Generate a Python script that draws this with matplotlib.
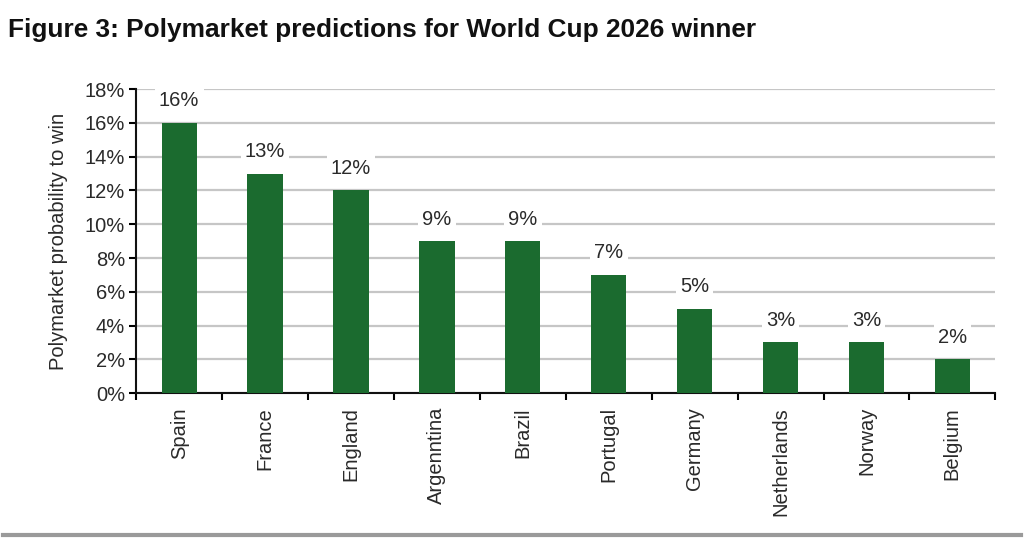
import numpy as np
import matplotlib.pyplot as plt
from matplotlib.lines import Line2D

# Polymarket odds for World Cup 2026 winner
countries = ['Spain', 'France', 'England', 'Argenntina', 'Brazil',
             'Portugal', 'Germany', 'Netherlands', 'Norway', 'Belgium']
probs = [16, 13, 12, 9, 9, 7, 5, 3, 3, 2]
yticks = list(range(0, 19, 2))

plt.rcParams['font.family'] = ['Liberation Sans', 'DejaVu Sans']

fs = 14.5
txt = '#2a2a2a'

fig = plt.figure(figsize=(10.24, 5.4), dpi=100)
ax = fig.add_axes([0.133, 0.272, 0.839, 0.563])

x = np.arange(len(countries))
ax.bar(x, probs, width=0.41, color='#1b6b2f', zorder=3)

ax.set_xlim(-0.5, len(countries) - 0.5)
ax.set_ylim(0, 18)
ax.set_yticks(yticks)
ax.set_yticklabels([f'{v}%' for v in yticks], fontsize=fs, color=txt)
ax.yaxis.grid(True, color='#c6c6c6', linewidth=1.6, zorder=0)

ax.set_xticks(x)
ax.set_xticklabels(countries, rotation=90, fontsize=fs, color=txt)
ax.tick_params(axis='x', which='major', length=0, pad=10)
ax.set_xticks(np.arange(-0.5, len(countries), 1), minor=True)
ax.tick_params(axis='x', which='minor', length=5, width=1.5, direction='out')
ax.tick_params(axis='y', length=5, width=1.5, direction='out', pad=3)

for s in ['top', 'right']:
    ax.spines[s].set_visible(False)
for s in ['left', 'bottom']:
    ax.spines[s].set_linewidth(1.5)
    ax.spines[s].set_color('#111111')

for xi, v in zip(x, probs):
    ax.text(xi, v + 1.3, f'{v}%', ha='center', va='center', fontsize=fs,
            color=txt, zorder=4,
            bbox=dict(facecolor='white', edgecolor='none', pad=3))

ax.set_ylabel('Polymarket probability to win', fontsize=fs, color=txt, labelpad=12)

fig.text(0.008, 0.945, 'Figure 3: Polymarket predictions for World Cup 2026 winner',
         fontsize=18.9, fontweight='bold', color='#111111', va='center')

fig.add_artist(Line2D([0.003, 0.997], [0.01, 0.01], color='#9a9a9a', linewidth=3,
                      transform=fig.transFigure))

fig.savefig('out.png', dpi=100)
